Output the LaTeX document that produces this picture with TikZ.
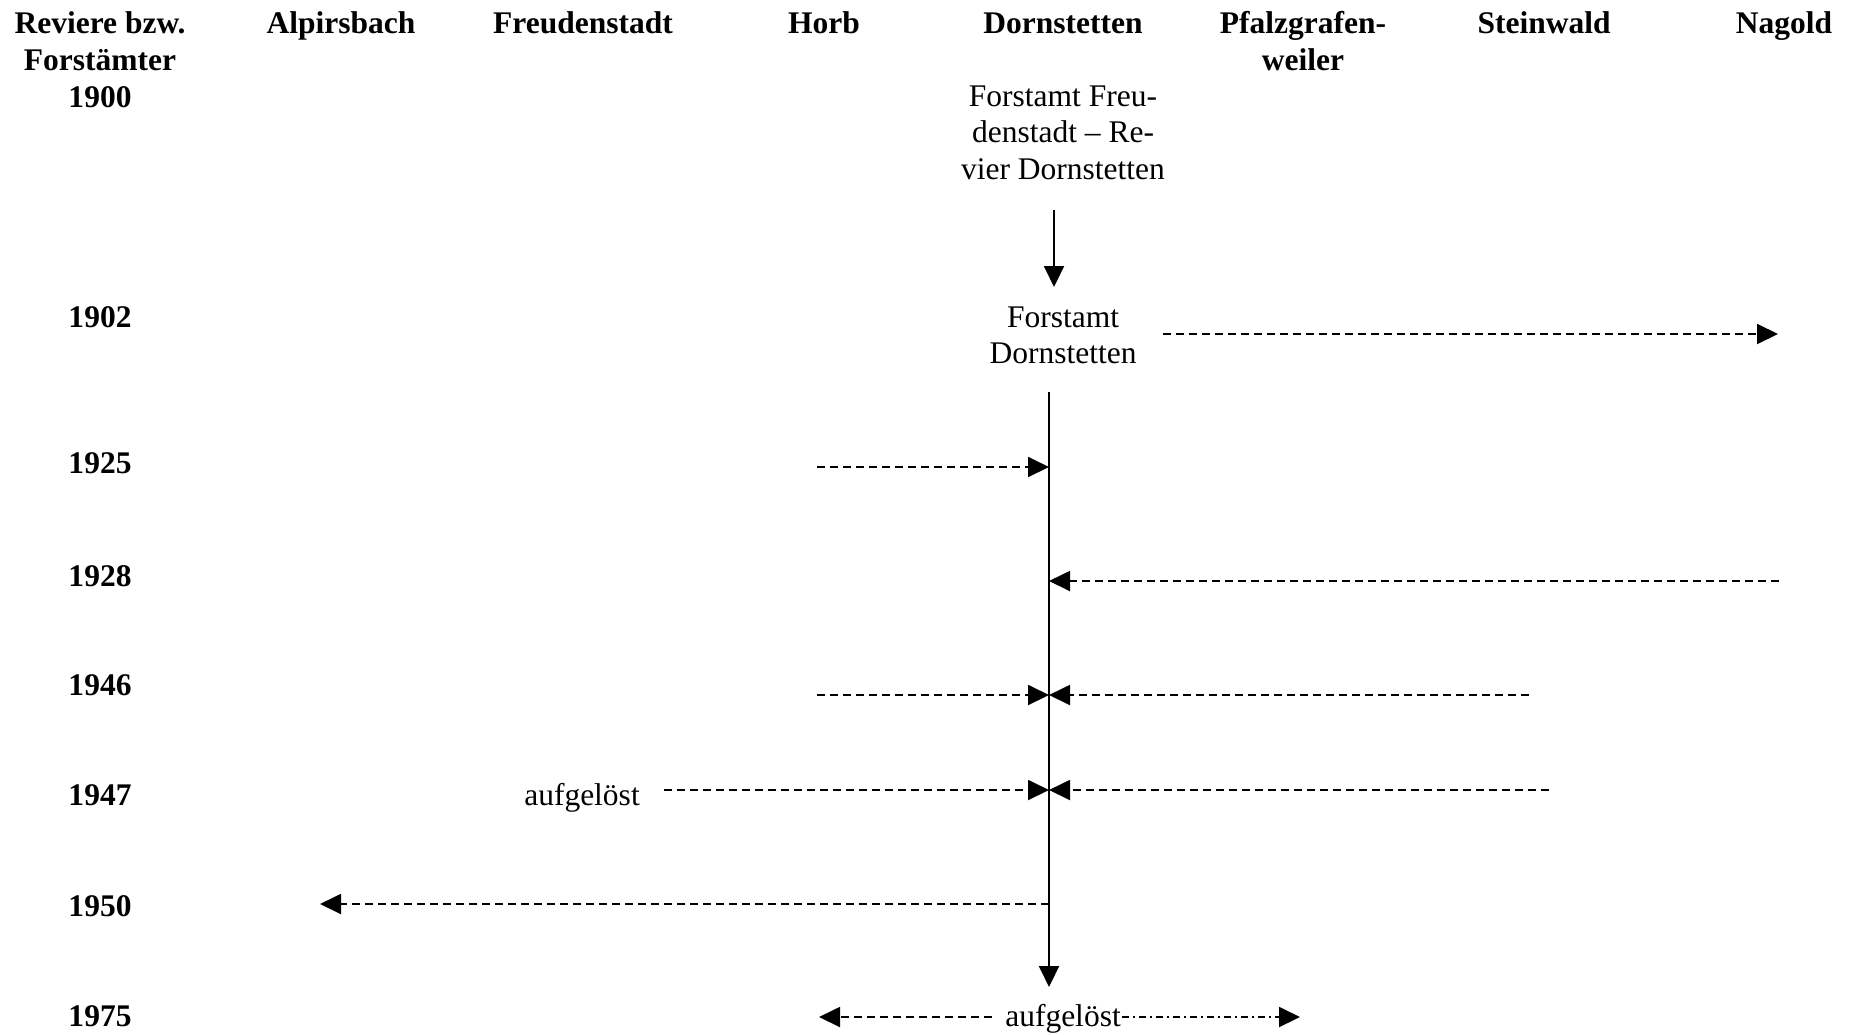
\documentclass[tikz,border=0pt]{standalone}
\usepackage{fontspec}
\setmainfont{Liberation Serif}
\usetikzlibrary{arrows.meta}
\newcommand{\mlines}[1]{\begin{tabular}[t]{@{}c@{}}#1\end{tabular}}
\tikzset{
  txt/.style={anchor=base, inner sep=0pt, font=\fontsize{12.6}{14.6}\selectfont},
  hdr/.style={anchor=base, inner sep=0pt, font=\bfseries\fontsize{12.6}{14.8}\selectfont},
  tip/.style={-{Triangle[length=8.4pt,width=8pt]}},
  solidarrow/.style={tip, line width=0.8pt},
  dasharrow/.style={tip, line width=0.75pt, dash pattern=on 3.2pt off 2pt},
  dashline/.style={line width=0.75pt, dash pattern=on 3.2pt off 2pt},
  dotdasharrow/.style={tip, line width=0.75pt, dash pattern=on 2.8pt off 1.6pt on 0.8pt off 1.6pt}
}
\begin{document}
\begin{tikzpicture}[x=0.4pt,y=-0.4pt]
\path[use as bounding box] (0,0) rectangle (1850,1034);
% headers
\node[hdr] (hRev) at (100,33) {\mlines{Reviere bzw.\\Forstämter}};
\node[hdr] (hAlp) at (341,33) {Alpirsbach};
\node[hdr] (hFreu) at (583,33) {Freudenstadt};
\node[hdr] (hHorb) at (824,33) {Horb};
\node[hdr] (hDorn) at (1063,33) {Dornstetten};
\node[hdr] (hPfalz) at (1303,33) {\mlines{Pfalzgrafen-\\weiler}};
\node[hdr] (hStein) at (1544,33) {Steinwald};
\node[hdr] (hNag) at (1784,33) {Nagold};
% years
\node[hdr] (y1900) at (100,107) {1900};
\node[hdr] (y1902) at (100,327) {1902};
\node[hdr] (y1925) at (100,473) {1925};
\node[hdr] (y1928) at (100,586) {1928};
\node[hdr] (y1946) at (100,695) {1946};
\node[hdr] (y1947) at (100,805) {1947};
\node[hdr] (y1950) at (100,916) {1950};
\node[hdr] (y1975) at (100,1026) {1975};
% texts
\node[txt] (ffd) at (1063,106) {\mlines{Forstamt Freu-\\denstadt – Re-\\vier Dornstetten}};
\node[txt] (fd) at (1063,327) {\mlines{Forstamt\\Dornstetten}};
\node[txt] (auf47) at (582,805) {aufgelöst};
\node[txt] (auf75) at (1063,1026) {aufgelöst};
% coordinates
\coordinate (a1s) at (1054,210);
\coordinate (a1e) at (1054,287);
\coordinate (tTop) at (1049,392);
\coordinate (tBot) at (1049,987);
\coordinate (n02s) at (1163,334);
\coordinate (n02e) at (1778,334);
\coordinate (h25) at (817,467);
\coordinate (t25) at (1049,467);
\coordinate (n28) at (1779,581);
\coordinate (t28) at (1049,581);
\coordinate (h46) at (817,695);
\coordinate (s46) at (1529,695);
\coordinate (t46) at (1049,695);
\coordinate (f47) at (664,790);
\coordinate (s47) at (1549,790);
\coordinate (t47) at (1049,790);
\coordinate (t50) at (1049,904);
\coordinate (a50) at (320,904);
\coordinate (l75s) at (992,1017);
\coordinate (l75e) at (819,1017);
\coordinate (r75s) at (1122,1017);
\coordinate (r75e) at (1300,1017);
% connectors
\draw[solidarrow] (a1s) -- (a1e);
\draw[solidarrow] (tTop) -- (tBot);
\draw[dasharrow] (n02s) -- (n02e);
\draw[dasharrow] (h25) -- (t25);
\draw[dasharrow] (n28) -- (t28);
\draw[dasharrow] (h46) -- (t46);
\draw[dasharrow] (s46) -- (t46);
\draw[dasharrow] (f47) -- (t47);
\draw[dasharrow] (s47) -- (t47);
\draw[dasharrow] (t50) -- (a50);
\draw[dasharrow] (l75s) -- (l75e);
\draw[dotdasharrow] (r75s) -- (r75e);
\end{tikzpicture}
\end{document}
